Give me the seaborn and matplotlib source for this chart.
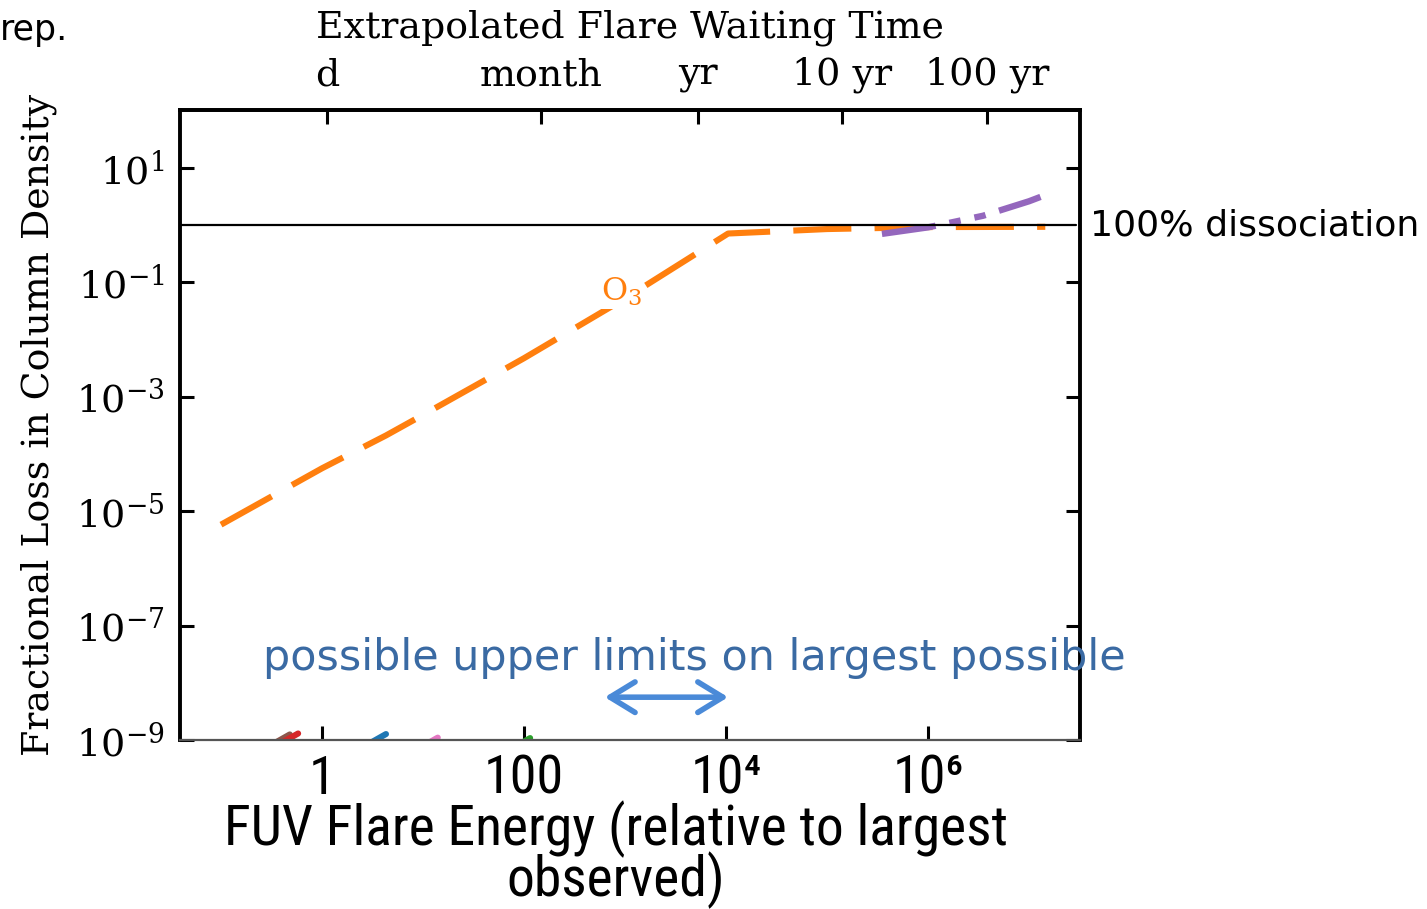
import numpy as np
import pandas as pd
import matplotlib
matplotlib.use("Agg")
import matplotlib.pyplot as plt
from matplotlib import font_manager as fm
import seaborn as sns

# ---------------- data ----------------
energy_o3 = [0.1, 1, 4.3, 10, 100, 1e3, 1.05e4, 1e5, 1e6, 1.45e7]
loss_o3 = [5.8e-6, 5.6e-5, 2.1e-4, 4.8e-4, 4.7e-3, 5.2e-2, 0.71, 0.85, 0.92, 0.93]

energy_purple = [3.5e5, 1e6, 3.5e6, 1e7, 1.3e7]
loss_purple = [0.70, 0.91, 1.45, 2.6, 3.1]

# other species: only their tips poke above the 1e-9 floor
small_names = ["brown", "red", "blue", "pink", "green"]
small_colors = ["tab:brown", "tab:red", "tab:blue", "tab:pink", "tab:green"]
small_energy_end = [0.48, 0.58, 4.3, 14, 115]
small_loss_end = [1.25e-9, 1.3e-9, 1.27e-9, 1.1e-9, 1.08e-9]

bottom_ticks = [1, 100, 1e4, 1e6]
bottom_labels = ["1", "100", "10\u2074", "10\u2076"]

wait_days = [1, 30.4, 365.25, 3652.5, 36525]
wait_labels = ["d", "month", "yr", "10 yr", "100 yr"]
E_day = 1.12          # energy equivalent to one-day waiting time
ffd_index = 1.432     # E ~ t^index

y_ticks = [1e-9, 1e-7, 1e-5, 1e-3, 1e-1, 1e1]

arrow_energy = [630, 1.05e4]
arrow_loss = 5.6e-9

XLABEL = "FUV Flare Energy (relative to largest\nobserved)"

# ---------------- style ----------------
sns.set_style("ticks")
plt.rcParams["font.family"] = ["DejaVu Serif"]
plt.rcParams["mathtext.fontset"] = "dejavuserif"
for k in ["text.color", "axes.labelcolor", "xtick.color", "ytick.color"]:
    plt.rcParams[k] = "black"

# pick a narrow sans font if one is installed
cond_family, cond_stretch = "DejaVu Sans", "normal"
names = {f.name for f in fm.fontManager.ttflist}
for cand in ["Liberation Sans Narrow", "Roboto Condensed", "Open Sans Condensed",
             "Noto Sans Condensed", "DejaVu Sans Condensed"]:
    if cand in names:
        cond_family = cand
        break
else:
    for f in fm.fontManager.ttflist:
        if f.name == "DejaVu Sans" and "ondensed" in (str(f.stretch) + f.fname) \
                and "Bold" not in f.fname and "Oblique" not in f.fname:
            cond_stretch = "condensed"
            break
cond_fam_list = [cond_family, "DejaVu Sans"]

fig = plt.figure(figsize=(14.27, 9.09), dpi=100)
ax = fig.add_axes([180 / 1427, 1 - 740 / 909, 900 / 1427, 630 / 909])

df_o3 = pd.DataFrame({"E": energy_o3, "L": loss_o3})
sns.lineplot(data=df_o3, x="E", y="L", ax=ax, color="#ff7f0e", lw=4.4,
             linestyle=(0, (9.5, 3.8)), sort=True, estimator=None)

df_p = pd.DataFrame({"E": energy_purple, "L": loss_purple})
sns.lineplot(data=df_p, x="E", y="L", ax=ax, color="#9467bd", lw=4.6,
             linestyle=(0, (8.5, 2.2, 1.8, 2.2, 1.8, 2.2)), sort=True, estimator=None)

for n, c, e, l in zip(small_names, small_colors, small_energy_end, small_loss_end):
    d = pd.DataFrame({"E": [e / 100, e], "L": [l / 100, l]})
    sns.lineplot(data=d, x="E", y="L", ax=ax, color=c, lw=4.4, estimator=None)

ax.axhline(1.0, color="black", lw=1.6, xmax=0.995)

ax.set_xscale("log")
ax.set_yscale("log")
ax.set_xlim(10 ** -1.406, 10 ** 7.505)
ax.set_ylim(1e-9, 10 ** 2.01)

ax.set_yticks(y_ticks)
ax.yaxis.set_minor_locator(matplotlib.ticker.NullLocator())
ax.set_xticks(bottom_ticks)
ax.set_xticklabels(bottom_labels)
ax.xaxis.set_minor_locator(matplotlib.ticker.NullLocator())

ax.tick_params(axis="y", which="major", direction="in", length=10, width=2.2,
               labelsize=27.5, right=True, pad=11)
ax.tick_params(axis="x", which="major", direction="in", length=10, width=2.2,
               pad=10, top=False)

for s in ["left", "right", "top"]:
    ax.spines[s].set_linewidth(2.8)
    ax.spines[s].set_color("black")
ax.spines["bottom"].set_linewidth(1.6)
ax.spines["bottom"].set_color("#555555")

ax.set_xlabel(XLABEL, fontfamily=cond_fam_list, fontstretch=cond_stretch,
              fontsize=40, linespacing=0.86)
ax.set_ylabel("Fractional Loss in Column Density", fontsize=27.3, labelpad=14)

# fit the narrow-font label width to the reference (about 783 px)
fig.canvas.draw()
r = fig.canvas.get_renderer()
w = ax.xaxis.label.get_window_extent(r).width
xl_size = 40 * 783.0 / w
ax.xaxis.label.set_fontsize(xl_size)
tick_size = xl_size * 0.975
for lab in ax.get_xticklabels():
    lab.set_fontfamily(cond_fam_list)
    lab.set_fontstretch(cond_stretch)
    lab.set_fontsize(tick_size)
ax.xaxis.set_label_coords(0.484, -0.096)

# top axis: waiting time
def e_to_t(e):
    e = np.asarray(e, dtype=float)
    return (np.clip(e, 1e-30, None) / E_day) ** (1 / ffd_index)

def t_to_e(t):
    t = np.asarray(t, dtype=float)
    return E_day * np.clip(t, 1e-30, None) ** ffd_index

sec = ax.secondary_xaxis("top", functions=(e_to_t, t_to_e))
sec.set_xscale("log")
sec.set_xticks(wait_days)
sec.set_xticklabels(wait_labels)
sec.xaxis.set_minor_locator(matplotlib.ticker.NullLocator())
sec.tick_params(axis="x", which="major", direction="in", length=10, width=2.2,
                labelsize=27.4, pad=12)
sec.spines["top"].set_linewidth(2.8)
sec.set_xlabel("Extrapolated Flare Waiting Time", fontsize=27.3, labelpad=14)

# annotations
ax.text(935, 0.068, "O$_3$", color="#ff7f0e", fontsize=23, ha="center", va="center",
        bbox=dict(facecolor="white", edgecolor="none", pad=0.5))
ax.text(1.011, 1.0, "100% dissociation", transform=ax.get_yaxis_transform(),
        fontfamily="DejaVu Sans", fontsize=26.1, ha="left", va="center", clip_on=False)
ax.text(4900, 2.7e-8, "possible upper limits on largest possible", color="#3a6aa3",
        fontfamily="DejaVu Sans", fontsize=30.9, ha="center", va="center", clip_on=False)
ax.annotate("", xy=(arrow_energy[1], arrow_loss), xytext=(arrow_energy[0], arrow_loss),
            arrowprops=dict(arrowstyle="<->,head_length=0.9,head_width=0.55",
                            color="#4a8ad8", lw=4, mutation_scale=20,
                            shrinkA=0, shrinkB=0))

fig.text(0.0, 0.967, "rep.", fontfamily="DejaVu Sans", fontsize=25, ha="left", va="center")

fig.savefig("out.png", dpi=100)
